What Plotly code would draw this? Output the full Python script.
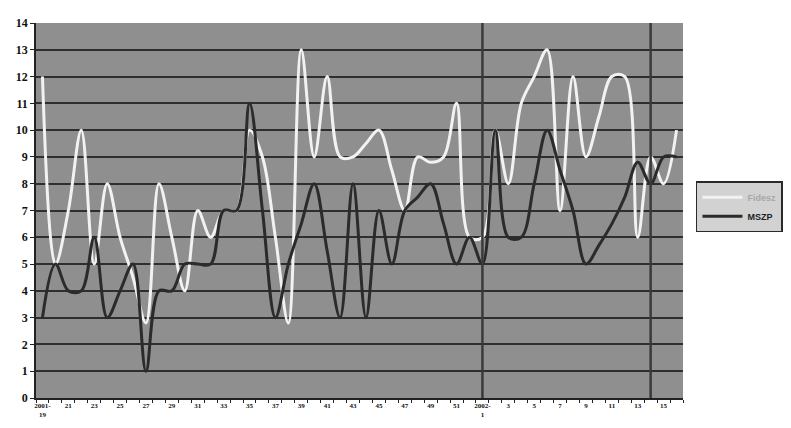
import plotly.graph_objects as go

# Weekly categories: 2001 week 19 .. 2002 week 16
weeks_2001 = [f"2001-{w}" for w in range(19, 53)]
weeks_2002 = [f"2002-{w}" for w in range(1, 17)]
categories = weeks_2001 + weeks_2002

# Tick labels (every other week shown)
tick_labels = []
for i, c in enumerate(categories):
    year, wk = c.split("-")
    if i % 2 == 1:
        tick_labels.append("")
    elif i == 0 or wk == "1":
        tick_labels.append(f"{year}-<br>{wk}")
    else:
        tick_labels.append(wk)

fidesz = [12, 5, 7, 10, 5, 8, 6, 4.5, 2.8, 8,
          6, 4, 7, 6, 7, 7, 10, 9, 6, 2.8,
          13, 9, 12, 9, 9, 9.5, 10, 8.5, 7, 9,
          8.8, 9, 11, 6, 6, 10, 8, 11, 12, 13,
          7, 12, 9, 10.5, 12, 12, 6, 9, 8, 10]

mszp = [3, 5, 4, 4, 6, 3, 4, 5, 1, 4,
        4, 5, 5, 5, 7, 7, 11, 7, 3, 5,
        6.5, 8, 5.5, 3, 8, 3, 7, 5, 7, 7.5,
        8, 6.5, 5, 6, 5, 10, 6, 6, 8, 10,
        8.5, 7, 5, 5.7, 6.5, 7.5, 8.8, 8, 9, 9]

series_names = ["Fidesz", "MSZP"]
marker_weeks = ["2002-1", "2002-14"]

fig = go.Figure()
fig.add_trace(go.Scatter(
    x=categories, y=fidesz, mode="lines",
    name="<span style='color:#a8a8a8'>" + series_names[0] + "</span>",
    line=dict(color="#f2f2f2", width=3, shape="spline", smoothing=1.0),
))
fig.add_trace(go.Scatter(
    x=categories, y=mszp, mode="lines",
    name=series_names[1],
    line=dict(color="#2b2b2b", width=3, shape="spline", smoothing=1.0),
))

for wk in marker_weeks:
    fig.add_shape(type="line", xref="x", yref="y", x0=wk, x1=wk, y0=0, y1=14,
                  line=dict(color="#3a3a3a", width=2.5), layer="above")

fig.update_layout(
    width=783, height=420,
    margin=dict(l=23, r=106, t=8, b=30),
    paper_bgcolor="white",
    plot_bgcolor="#8f8f8f",
    showlegend=True,
    legend=dict(
        x=1.02, y=0.51, xanchor="left", yanchor="middle",
        bgcolor="#d2d2d2", bordercolor="#2a2a2a", borderwidth=1.5,
        font=dict(family="Liberation Sans", size=9, color="#222", weight="bold"),
        itemwidth=40, tracegroupgap=0,
    ),
    xaxis=dict(
        type="category",
        categoryorder="array", categoryarray=categories,
        tickmode="array", tickvals=categories, ticktext=tick_labels,
        tickangle=0,
        showgrid=False, zeroline=False,
        showline=True, linecolor="#222", linewidth=1.5,
        ticks="outside", ticklen=3, tickcolor="#222", tickson="boundaries",
        tickfont=dict(family="Liberation Serif", size=7, color="#111", weight="bold"),
        range=[-0.5, len(categories) - 0.5],
    ),
    yaxis=dict(
        range=[0, 14], dtick=1, tick0=0,
        showgrid=True, gridcolor="#2e2e2e", gridwidth=1.5,
        zeroline=False,
        showline=True, linecolor="#222", linewidth=1.5,
        ticks="outside", ticklen=4, tickcolor="#222",
        tickfont=dict(family="Liberation Serif", size=12, color="#111", weight="bold"),
    ),
)

fig.write_html("out.html")
